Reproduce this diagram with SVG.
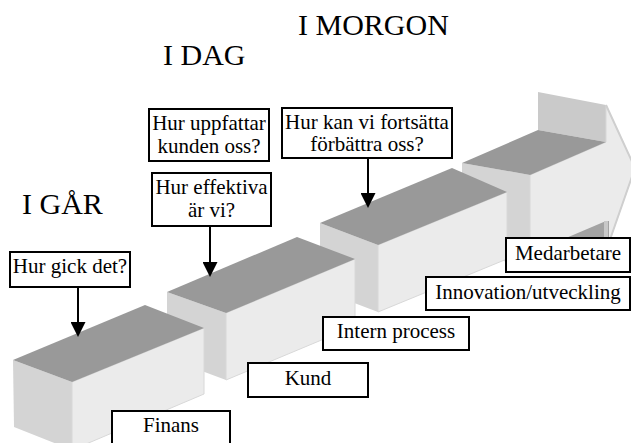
<svg xmlns="http://www.w3.org/2000/svg" width="631" height="443" viewBox="0 0 631 443">
<style>
.top{fill:#999999}
.side{fill:#d4d4d4}
.front{fill:#ebebeb;stroke:#d8d8d8;stroke-width:1}
.panel{fill:#cacaca}
.box{fill:#ffffff;stroke:#000000;stroke-width:2}
.t{font-family:"Liberation Serif","Times New Roman",serif;font-size:21px;fill:#000;text-anchor:middle}
.title{font-family:"Liberation Serif","Times New Roman",serif;font-size:30px;fill:#000}
.conn{stroke:#000;stroke-width:2;fill:none;marker-end:url(#ah)}
</style>
<defs>
<marker id="ah" markerWidth="15" markerHeight="15" refX="3" refY="7.5" orient="auto" markerUnits="userSpaceOnUse">
<path d="M0,0 L15,7.5 L0,15 z" fill="#000"/>
</marker>
</defs>
<rect width="631" height="443" fill="#ffffff"/>

<g id="steps">
<g id="step4">
<polygon class="panel" points="538,92 606,105 606,142 538,130"/>
<polygon class="side" points="462,163 530,175 530,268 462,250"/>
<polygon class="front" points="530,175 606,142 606,105 635,168 606,251 530,268"/>
<polyline points="606,105 635,168 606,251" fill="none" stroke="#cfcfcf" stroke-width="2"/>
<polygon class="top" points="462,163 538,130 606,142 530,175"/>
<polygon points="566,238 606,221 609,221 609,238" fill="#a3a3a3"/>
<rect x="604" y="221" width="4" height="17" fill="#c8c8c8"/>
</g>
<g id="step3">
<polygon class="side" points="320,223 378,245 378,312 320,290"/>
<polygon class="front" points="378,245 507,192 507,259 378,312"/>
<polygon class="top" points="320,223 452,168 507,192 378,245"/>
</g>
<g id="step2">
<polygon class="side" points="167,292 226,313 226,380 167,358"/>
<polygon class="front" points="226,313 355,259 355,326 226,380"/>
<polygon class="top" points="167,292 297,237 355,259 226,313"/>
</g>
<g id="step1">
<polygon class="side" points="13,360 72,382 72,450 14,427"/>
<polygon class="front" points="72,382 204,328 204,394 72,450"/>
<polygon class="top" points="13,360 145,305 204,328 72,382"/>
</g>
</g>

<g id="medarbetare">
<rect class="box" x="506" y="238" width="124" height="34"/>
<text class="t" x="568" y="260">Medarbetare</text>
</g>
<g id="innovation">
<rect class="box" x="426" y="277" width="204" height="33"/>
<text class="t" x="528" y="299">Innovation/utveckling</text>
</g>
<g id="intern">
<rect class="box" x="323" y="317" width="146" height="33"/>
<text class="t" x="396" y="338">Intern process</text>
</g>
<g id="kund">
<rect class="box" x="248" y="363" width="120" height="34"/>
<text class="t" x="308" y="385">Kund</text>
</g>
<g id="finans">
<rect class="box" x="112" y="411" width="118" height="36"/>
<text class="t" x="171" y="432">Finans</text>
</g>

<g id="q-gar">
<rect class="box" x="10" y="252" width="120" height="35"/>
<text class="t" x="70" y="273">Hur gick det?</text>
</g>
<g id="q-kund">
<rect class="box" x="149" y="109" width="120" height="52"/>
<text class="t" x="209" y="130">Hur uppfattar</text>
<text class="t" x="209" y="153">kunden oss?</text>
</g>
<g id="q-eff">
<rect class="box" x="152" y="173" width="119" height="53"/>
<text class="t" x="211.5" y="194">Hur effektiva</text>
<text class="t" x="211.5" y="217">är vi?</text>
</g>
<g id="q-morgon">
<rect class="box" x="282" y="108" width="170" height="50"/>
<text class="t" x="367" y="129">Hur kan vi fortsätta</text>
<text class="t" x="367" y="151">förbättra oss?</text>
</g>

<g id="connectors">
<line class="conn" x1="78" y1="287" x2="78" y2="325"/>
<line class="conn" x1="210" y1="226" x2="210" y2="265"/>
<line class="conn" x1="368" y1="158" x2="368" y2="196"/>
</g>

<g id="titles">
<text class="title" x="22" y="214">I GÅR</text>
<text class="title" x="163" y="65">I DAG</text>
<text class="title" x="298" y="35">I MORGON</text>
</g>
</svg>
